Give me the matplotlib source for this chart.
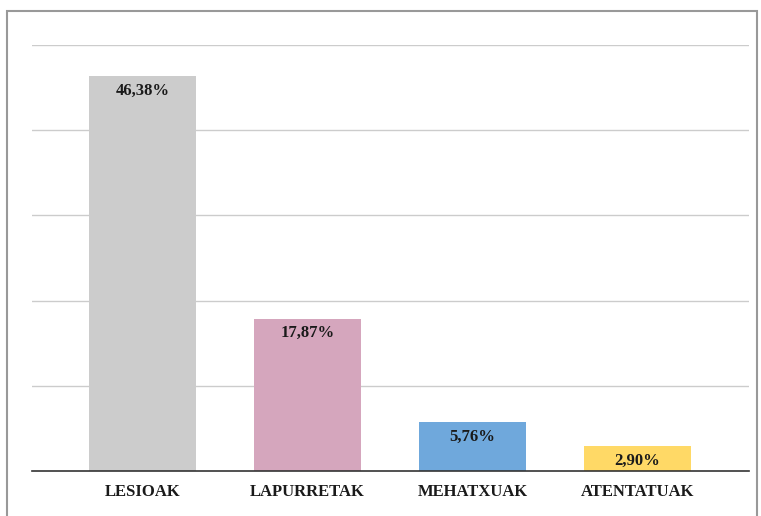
import matplotlib.pyplot as plt
from matplotlib.patches import Rectangle

categories = ["LESIOAK", "LAPURRETAK", "MEHATXUAK", "ATENTATUAK"]
values = [46.38, 17.87, 5.76, 2.90]
labels = ["46,38%", "17,87%", "5,76%", "2,90%"]
colors = ["#cccccc", "#d5a6bd", "#6fa8dc", "#ffd966"]

plt.rcParams['font.family'] = ['Liberation Serif', 'DejaVu Serif']

fig = plt.figure(figsize=(7.61, 5.16), dpi=100)
# outer frame
fig.patches.append(Rectangle((7/761, -0.05), 750/761, 1.05 - 11/516, transform=fig.transFigure,
                             fill=False, edgecolor="#999999", linewidth=1.5))

ax = fig.add_axes([32/761, 1 - 471/516, 717/761, 426/516])
x = range(len(categories))
bars = ax.bar(x, values, width=0.65, color=colors, zorder=2)

for b, lab in zip(bars, labels):
    ax.annotate(lab, xy=(b.get_x() + b.get_width() / 2, b.get_height()),
                xytext=(0, -10.5), textcoords="offset points", ha="center", va="center",
                fontsize=12, fontweight="bold", color="#1a1a1a")

ax.set_xlim(-0.67, 3.676)
ax.set_ylim(0, 50)
ax.set_yticks([10, 20, 30, 40, 50])
ax.yaxis.grid(True, color="#cccccc", linewidth=1, zorder=0)
ax.tick_params(axis="y", left=False, labelleft=False)
ax.tick_params(axis="x", bottom=False, pad=6)
ax.set_xticks(list(x))
ax.set_xticklabels(categories, fontsize=12, fontweight="bold", color="#1a1a1a")
for s in ["top", "right", "left"]:
    ax.spines[s].set_visible(False)
ax.spines["bottom"].set_color("#333333")
ax.spines["bottom"].set_linewidth(1.2)
ax.spines["bottom"].set_zorder(3)

fig.savefig("out.png", dpi=100)
